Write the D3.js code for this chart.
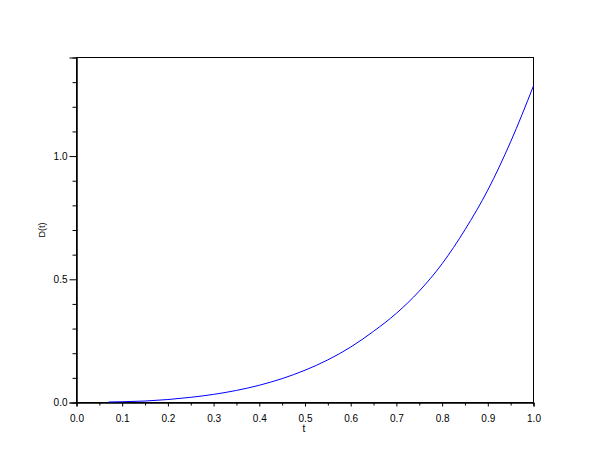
<!DOCTYPE html>
<html>
<head>
<meta charset="utf-8">
<script src="https://cdn.jsdelivr.net/npm/d3@7"></script>
<style>
  body { margin: 0; background: #fff; }
  text { font-family: "Liberation Sans", Arial, sans-serif; font-size: 10px; fill: #000; }
</style>
</head>
<body>
<script>
// curve
const tValues = [0.07, 0.1, 0.15, 0.2, 0.25, 0.3, 0.35, 0.4, 0.45, 0.5, 0.55, 0.6, 0.65, 0.7, 0.75, 0.8, 0.85, 0.9, 0.95, 1.0];
const dValues = [0.002, 0.003, 0.006, 0.012, 0.021, 0.033, 0.049, 0.070, 0.097, 0.131, 0.173, 0.225, 0.289, 0.362, 0.452, 0.563, 0.701, 0.862, 1.058, 1.285];

const xMajor = [0, 0.1, 0.2, 0.3, 0.4, 0.5, 0.6, 0.7, 0.8, 0.9, 1.0];
const xMinor = [0.05, 0.15, 0.25, 0.35, 0.45, 0.55, 0.65, 0.75, 0.85, 0.95];
const yMajor = [0, 0.5, 1.0];
const yMinor = [0.1, 0.2, 0.3, 0.4, 0.6, 0.7, 0.8, 0.9, 1.1, 1.2, 1.3];

const margin = {top: 57, right: 77, bottom: 58, left: 76};
const width = 610 - margin.left - margin.right;
const height = 460 - margin.top - margin.bottom;

const x = d3.scaleLinear().domain([0, 1]).range([0, width]);
const y = d3.scaleLinear().domain([0, 1.4]).range([height, 0]);

const svg = d3.select("body")
  .append("svg")
    .attr("width", 610)
    .attr("height", 460);

const g = svg.append("g")
    .attr("transform", `translate(${margin.left + 0.5},${margin.top + 0.5})`);

// box
g.append("rect")
  .attr("width", width)
  .attr("height", height)
  .attr("fill", "none")
  .attr("stroke", "#000");

const fmt = d3.format(".1f");

g.append("g")
  .attr("transform", `translate(0,${height})`)
  .call(d3.axisBottom(x).tickValues(xMajor).tickFormat(fmt).tickSize(4).tickPadding(8));

g.append("g")
  .attr("transform", `translate(0,${height})`)
  .call(d3.axisBottom(x).tickValues(xMinor).tickFormat("").tickSize(3));

g.append("g")
  .call(d3.axisLeft(y).tickValues(yMajor).tickFormat(fmt).tickSize(7).tickPadding(2));

g.append("g")
  .call(d3.axisLeft(y).tickValues(yMinor).tickFormat("").tickSize(4));

g.selectAll(".domain").attr("stroke", "#000");
g.selectAll(".tick line").attr("stroke", "#000");
g.selectAll(".tick text").attr("fill", "#000").style("font-size", "10px")
  .style("font-family", '"Liberation Sans", Arial, sans-serif');

// curve
const line = d3.line()
  .x((d, i) => x(tValues[i]))
  .y(d => y(d))
  .curve(d3.curveMonotoneX);

g.append("path")
  .datum(dValues)
  .attr("fill", "none")
  .attr("stroke", "#0000ff")
  .attr("stroke-width", 1)
  .attr("d", line);

// axis labels
svg.append("text")
  .attr("x", 304)
  .attr("y", 432)
  .attr("text-anchor", "middle")
  .text("t");

svg.append("text")
  .attr("transform", "translate(45,230) rotate(-90)")
  .attr("text-anchor", "middle")
  .style("font-size", "9px")
  .text("D(t)");
</script>
</body>
</html>
